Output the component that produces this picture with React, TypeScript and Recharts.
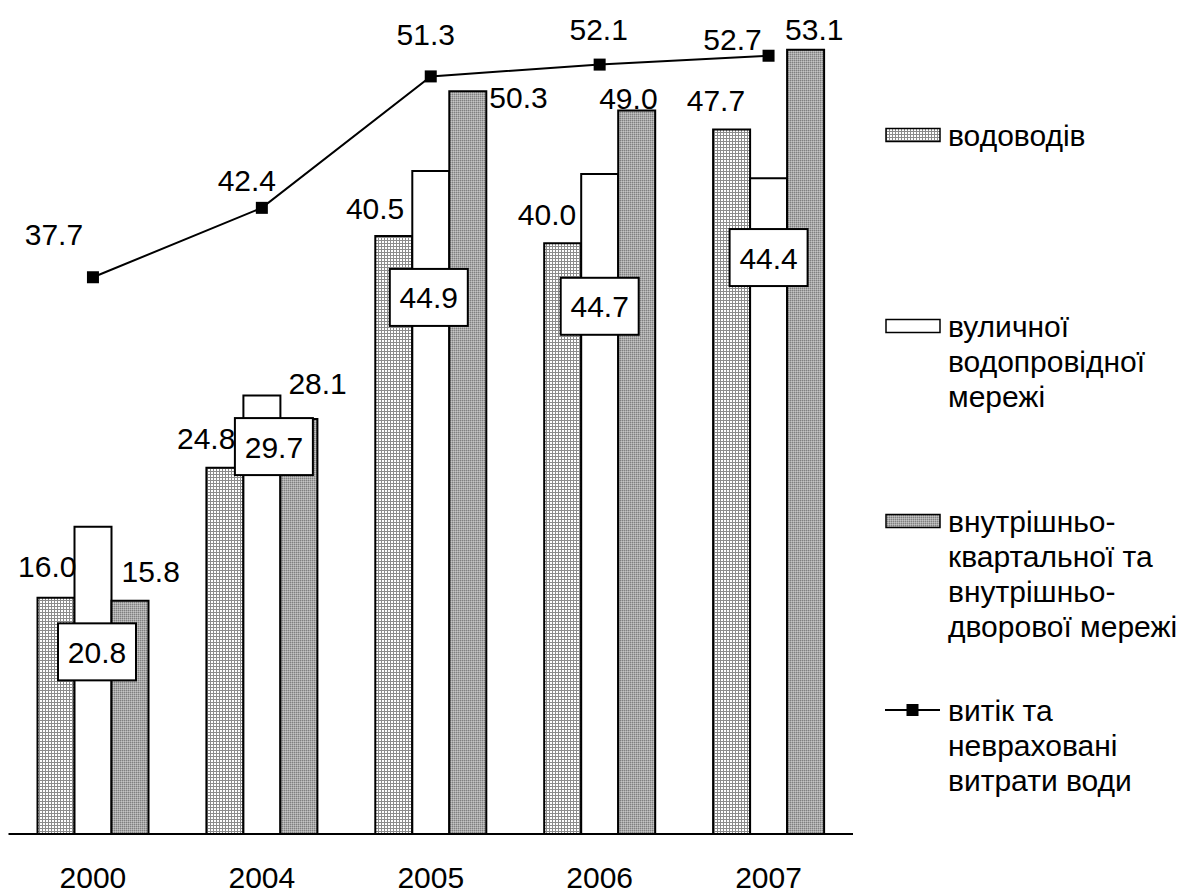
import { ComposedChart, Bar, Line, XAxis, YAxis, LabelList } from "recharts";

const years = ["2000", "2004", "2005", "2006", "2007"];
const mains = [16.0, 24.8, 40.5, 40.0, 47.7];
const street = [20.8, 29.7, 44.9, 44.7, 44.4];
const inner = [15.8, 28.1, 50.3, 49.0, 53.1];
const leaks = [37.7, 42.4, 51.3, 52.1, 52.7];

// where the boxed street-network labels sit, in value units
const streetBoxAt = [12.3, 26.2, 36.3, 35.7, 39.0];
// hand placed label shifts, as in the original
const streetBoxDx = [4, 12, -2, 0, 0];
const mainsShift = [[2, -31], [-8, -29], [-8, -27], [-5, -29], [-5, -29]];
const innerShift = [[10, -29], [8, -36], [40, 6], [-19, -12], [-2, -20]];
const leakShift = [[-39, -43], [-15, -27], [-5, -42], [-1, -35], [-36, -16]];

const data = years.map((year, i) => ({
  year,
  mains: mains[i],
  street: street[i],
  inner: inner[i],
  leaks: leaks[i],
}));

const FONT = "'Liberation Sans', Arial, sans-serif";
const FS = 30;

const fmt = (v: any) => Number(v).toFixed(1);

const MainsLabel = (p: any) => {
  const [dx, dy] = mainsShift[p.index] || [0, 0];
  return (
    <text
      x={p.x + p.width + dx}
      y={p.y + dy}
      textAnchor="end"
      dominantBaseline="central"
      fontSize={FS}
      fontFamily={FONT}
      fill="#000"
    >
      {fmt(p.value)}
    </text>
  );
};

const InnerLabel = (p: any) => {
  const [dx, dy] = innerShift[p.index] || [0, 0];
  return (
    <text
      x={p.x + dx}
      y={p.y + dy}
      textAnchor="start"
      dominantBaseline="central"
      fontSize={FS}
      fontFamily={FONT}
      fill="#000"
    >
      {fmt(p.value)}
    </text>
  );
};

// drawn on the last bar's layer so the box stays on top
const StreetBox = (p: any) => {
  const i = p.index;
  const k = p.height / inner[i];
  const cx = p.x - p.width / 2 + streetBoxDx[i];
  const cy = p.y + p.height - streetBoxAt[i] * k;
  return (
    <g>
      <rect x={cx - 39} y={cy - 29} width={78} height={57} fill="#fff" stroke="#000" strokeWidth={2} />
      <text x={cx} y={cy} textAnchor="middle" dominantBaseline="central" fontSize={FS} fontFamily={FONT} fill="#000">
        {fmt(p.value)}
      </text>
    </g>
  );
};

const LeakLabel = (p: any) => {
  const [dx, dy] = leakShift[p.index] || [0, 0];
  return (
    <text
      x={p.x + dx}
      y={p.y + dy}
      textAnchor="middle"
      dominantBaseline="central"
      fontSize={FS}
      fontFamily={FONT}
      fill="#000"
    >
      {fmt(p.value)}
    </text>
  );
};

const SquareDot = (p: any) => (
  <rect key={`d${p.index}`} x={p.cx - 6} y={p.cy - 6} width={12} height={12} fill="#000" />
);

const YearTick = (p: any) => (
  <text x={p.x} y={p.y + 54} textAnchor="middle" fontSize={FS} fontFamily={FONT} fill="#000">
    {p.payload.value}
  </text>
);

const Patterns = ({ pre }: { pre: string }) => (
  <defs>
    <pattern id={`${pre}grid`} width="3" height="3" patternUnits="userSpaceOnUse">
      <rect width="3" height="3" fill="#fff" />
      <path d="M0 0.5H3M0.5 0V3" stroke="#8c8c8c" strokeWidth="1" />
    </pattern>
    <pattern id={`${pre}dots`} width="2" height="2" patternUnits="userSpaceOnUse">
      <rect width="2" height="2" fill="#a8a8a8" />
      <rect width="1" height="1" fill="#808080" />
      <rect x="1" y="1" width="1" height="1" fill="#c4c4c4" />
    </pattern>
  </defs>
);

const legendItems = [
  { kind: "grid", lines: ["водоводів"], y: 135 },
  { kind: "white", lines: ["вуличної", "водопровідної", "мережі"], y: 326 },
  { kind: "dots", lines: ["внутрішньо-", "квартальної та", "внутрішньо-", "дворової мережі"], y: 521 },
  { kind: "line", lines: ["витік та", "неврахованi", "витрати води"], y: 710 },
];

function LegendBox() {
  return (
    <>
      {legendItems.map((it) => (
        <div key={it.kind}>
          <svg
            width={60}
            height={20}
            style={{ position: "absolute", left: 883, top: it.y - 10 }}
          >
            <Patterns pre="lg" />
            {it.kind === "line" ? (
              <g>
                <line x1={2} y1={10} x2={57} y2={10} stroke="#000" strokeWidth={2} />
                <rect x={23.5} y={4} width={12} height={12} fill="#000" />
              </g>
            ) : (
              <rect
                x={3}
                y={3.5}
                width={54}
                height={13}
                fill={it.kind === "grid" ? "url(#lggrid)" : it.kind === "dots" ? "url(#lgdots)" : "#fff"}
                stroke="#000"
                strokeWidth={1.5}
              />
            )}
          </svg>
          <div
            style={{
              position: "absolute",
              left: 948,
              top: it.y - 17.5,
              fontSize: FS,
              lineHeight: "35px",
              fontFamily: FONT,
              color: "#000",
              whiteSpace: "nowrap",
            }}
          >
            {it.lines.map((l, j) => (
              <div key={j}>{l}</div>
            ))}
          </div>
        </div>
      ))}
    </>
  );
}

export default function App() {
  return (
    <div style={{ position: "absolute", left: 0, top: 0, width: 1198, height: 896, background: "#fff" }}>
      <ComposedChart
        width={1198}
        height={896}
        data={data}
        margin={{ top: 7, right: 345, bottom: 0, left: 8.5 }}
        barCategoryGap={29}
        barGap={0}
      >
        <Patterns pre="ch" />
        <XAxis
          dataKey="year"
          height={62}
          tickLine={false}
          tickSize={0}
          tickMargin={0}
          axisLine={{ stroke: "#000", strokeWidth: 2 }}
          tick={<YearTick />}
          interval={0}
        />
        <YAxis hide domain={[0, 56]} />
        <Bar dataKey="mains" fill="url(#chgrid)" stroke="#000" strokeWidth={2} isAnimationActive={false}>
          <LabelList dataKey="mains" content={<MainsLabel />} />
        </Bar>
        <Bar dataKey="street" fill="#fff" stroke="#000" strokeWidth={2} isAnimationActive={false} />
        <Bar dataKey="inner" fill="url(#chdots)" stroke="#000" strokeWidth={2} isAnimationActive={false}>
          <LabelList dataKey="inner" content={<InnerLabel />} />
          <LabelList dataKey="street" content={<StreetBox />} />
        </Bar>
        <Line
          dataKey="leaks"
          type="linear"
          stroke="#000"
          strokeWidth={2}
          dot={<SquareDot />}
          activeDot={false}
          isAnimationActive={false}
        >
          <LabelList dataKey="leaks" content={<LeakLabel />} />
        </Line>
      </ComposedChart>
      <LegendBox />
    </div>
  );
}
